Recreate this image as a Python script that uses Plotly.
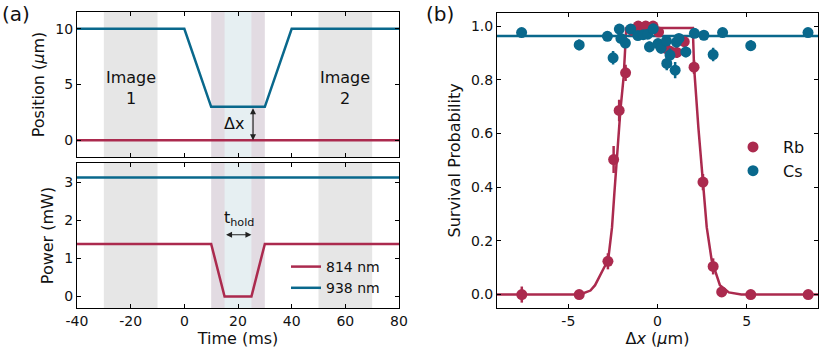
import plotly.graph_objects as go

# ---- data ----
# (a) top: trap positions vs time
time_cs_pos = [-40, 0, 10, 30, 40, 80]
cs_position = [10, 10, 3, 3, 10, 10]
time_rb_pos = [-40, 80]
rb_position = [0, 0]

# (a) bottom: trap powers vs time
time_rb_pow = [-40, 10, 15, 25, 30, 80]
rb_power = [1.38, 1.38, 0, 0, 1.38, 1.38]
time_cs_pow = [-40, 80]
cs_power = [3.12, 3.12]

image_windows = [(-30, -10), (50, 70)]
image_labels = ["Image<br>1", "Image<br>2"]
move_window = (10, 30)
hold_window = (15, 25)
dx_level = 3

# (b) survival vs separation
rb_x = [-7.61, -4.39, -2.78, -2.46, -2.15, -1.79, -1.45, -1.08, -0.66, -0.25, 0.06,
        0.45, 0.71, 1.08, 1.5, 2.05, 2.55, 3.12, 3.6, 5.23, 8.45]
rb_y = [0.0, 0.0, 0.124, 0.503, 0.686, 0.826, 0.985, 1.0, 1.0, 1.0, 0.978,
        0.918, 0.906, 0.902, 0.942, 0.847, 0.419, 0.105, 0.01, 0.0, 0.0]
rb_err = [0.03, 0.008, 0.03, 0.05, 0.04, 0.03, 0.01, 0.005, 0.005, 0.008, 0.01,
          0.02, 0.02, 0.02, 0.015, 0.025, 0.03, 0.03, 0.01, 0.005, 0.005]

cs_x = [-7.62, -4.39, -2.81, -2.49, -2.14, -2.05, -1.8, -1.5, -1.1, -0.8, -0.55,
        -0.45, -0.24, 0.03, 0.2, 0.5, 0.52, 0.7, 0.99, 1.06, 1.2, 1.59, 2.07,
        2.6, 3.12, 3.65, 5.23, 8.44]
cs_y = [0.976, 0.930, 0.962, 0.882, 0.989, 0.954, 0.937, 0.989, 0.965, 0.968, 0.97,
        0.923, 0.990, 0.935, 0.918, 0.945, 0.861, 0.892, 0.836, 0.940, 0.954, 0.904, 0.973,
        0.966, 0.894, 0.976, 0.927, 0.976]
cs_err = [0.01, 0.02, 0.012, 0.025, 0.01, 0.015, 0.015, 0.01, 0.012, 0.012, 0.012,
          0.02, 0.01, 0.015, 0.02, 0.015, 0.025, 0.025, 0.03, 0.015, 0.015, 0.02, 0.01,
          0.01, 0.025, 0.01, 0.02, 0.01]

rb_fit_x = [-9.0, -4.6, -4.2, -3.76, -3.5, -3.2, -3.0, -2.77, -2.55, -2.42, -2.27,
            -2.08, -1.9, -1.8, -1.75, 1.98, 2.0, 2.05, 2.29, 2.55, 2.76, 3.04, 3.5,
            4.0, 4.7, 9.0]
rb_fit_y = [0.0, 0.0, 0.004, 0.015, 0.035, 0.077, 0.1, 0.127, 0.25, 0.376, 0.525,
            0.687, 0.81, 0.95, 0.993, 0.993, 0.93, 0.848, 0.624, 0.43, 0.251, 0.127, 0.035,
            0.008, 0.0, 0.0]
cs_fit_x = [-9.0, 9.0]
cs_fit_y = [0.963, 0.963]

RED = "#AB2A4E"
BLUE = "#09688C"
FONT = "DejaVu Sans"

fig = go.Figure()

# left panels
fig.add_trace(go.Scatter(x=time_cs_pos, y=cs_position, mode="lines", line=dict(color=BLUE, width=2.5),
                         xaxis="x", yaxis="y", showlegend=False))
fig.add_trace(go.Scatter(x=time_rb_pos, y=rb_position, mode="lines", line=dict(color=RED, width=2.5),
                         xaxis="x", yaxis="y", showlegend=False))
fig.add_trace(go.Scatter(x=time_rb_pow, y=rb_power, mode="lines", line=dict(color=RED, width=2.5),
                         xaxis="x2", yaxis="y2", name="814 nm", legend="legend"))
fig.add_trace(go.Scatter(x=time_cs_pow, y=cs_power, mode="lines", line=dict(color=BLUE, width=2.5),
                         xaxis="x2", yaxis="y2", name="938 nm", legend="legend"))

# right panel
fig.add_trace(go.Scatter(x=rb_fit_x, y=rb_fit_y, mode="lines", line=dict(color=RED, width=2.5),
                         xaxis="x3", yaxis="y3", showlegend=False))
fig.add_trace(go.Scatter(x=cs_fit_x, y=cs_fit_y, mode="lines", line=dict(color=BLUE, width=2.5),
                         xaxis="x3", yaxis="y3", showlegend=False))
fig.add_trace(go.Scatter(x=rb_x, y=rb_y, mode="markers", name="Rb", legend="legend2",
                         marker=dict(color=RED, size=11),
                         error_y=dict(type="data", array=rb_err, color=RED, thickness=2.5, width=0),
                         xaxis="x3", yaxis="y3"))
fig.add_trace(go.Scatter(x=cs_x, y=cs_y, mode="markers", name="Cs", legend="legend2",
                         marker=dict(color=BLUE, size=11),
                         error_y=dict(type="data", array=cs_err, color=BLUE, thickness=2.5, width=0),
                         xaxis="x3", yaxis="y3"))

# shaded time windows in both left panels
shapes = []
for xa, ya in [("x", "y"), ("x2", "y2")]:
    for x0, x1 in image_windows:
        shapes.append(dict(type="rect", xref=xa, yref=ya + " domain", x0=x0, x1=x1, y0=0, y1=1,
                           fillcolor="#e6e6e6", line_width=0, layer="below"))
    shapes.append(dict(type="rect", xref=xa, yref=ya + " domain", x0=move_window[0], x1=move_window[1],
                       y0=0, y1=1, fillcolor="#e2dbe2", line_width=0, layer="below"))
    shapes.append(dict(type="rect", xref=xa, yref=ya + " domain", x0=hold_window[0], x1=hold_window[1],
                       y0=0, y1=1, fillcolor="#e6eff2", line_width=0, layer="below"))

annotations = []
for (x0, x1), lab in zip(image_windows, image_labels):
    annotations.append(dict(x=(x0 + x1) / 2, y=4.7, xref="x", yref="y", text=lab, showarrow=False,
                            font=dict(size=16, color="#111")))
# delta x arrow
annotations.append(dict(x=hold_window[1] + 0.6, y=0, ax=hold_window[1] + 0.6, ay=dx_level,
                        xref="x", yref="y", axref="x", ayref="y", text="", showarrow=True,
                        arrowhead=2, startarrowhead=2, arrowside="end+start", arrowsize=1,
                        arrowwidth=1.2, arrowcolor="#222", standoff=0, startstandoff=0))
annotations.append(dict(x=18.5, y=1.5, xref="x", yref="y", text="Δx", showarrow=False,
                        font=dict(size=16, color="#111")))
# t_hold arrow
annotations.append(dict(x=hold_window[1], y=1.62, ax=hold_window[0], ay=1.62,
                        xref="x2", yref="y2", axref="x2", ayref="y2", text="", showarrow=True,
                        arrowhead=2, startarrowhead=2, arrowside="end+start", arrowsize=1,
                        arrowwidth=1.2, arrowcolor="#222", standoff=0, startstandoff=0))
annotations.append(dict(x=20.5, y=2.05, xref="x2", yref="y2", text="t<sub>hold</sub>", showarrow=False,
                        font=dict(size=16, color="#111")))
# panel labels
annotations.append(dict(x=0, y=1.0, xref="paper", yref="paper", text="(a)", showarrow=False,
                        xanchor="left", yanchor="top", font=dict(size=20, color="#111")))
annotations.append(dict(x=424 / 830, y=1.0, xref="paper", yref="paper", text="(b)", showarrow=False,
                        xanchor="left", yanchor="top", font=dict(size=20, color="#111")))

axis_common = dict(ticks="inside", ticklen=4, tickwidth=1, tickcolor="black", showline=True,
                   linecolor="black", linewidth=1, mirror="ticks", showgrid=False, zeroline=False,
                   automargin=False,
                   tickfont=dict(size=14, color="#111"), title_font=dict(size=16, color="#111"))

time_ticks = [-40, -20, 0, 20, 40, 60, 80]
time_labels = ["-40", "-20", "0", "20", "40", "60", "80"]

fig.update_layout(
    width=830, height=360, margin=dict(l=0, r=0, t=0, b=0),
    paper_bgcolor="white", plot_bgcolor="white",
    font=dict(family=FONT, color="#111"),
    shapes=shapes, annotations=annotations,
    xaxis=dict(domain=[77 / 830, 399 / 830], range=[-40, 80], tickvals=time_ticks,
               showticklabels=False, anchor="y", **axis_common),
    yaxis=dict(domain=[1 - 157 / 360, 1 - 12 / 360], range=[-1.5, 11.5], tickvals=[0, 5, 10],
               title=dict(text="Position (<i>μ</i>m)", standoff=6), anchor="x", **axis_common),
    xaxis2=dict(domain=[77 / 830, 399 / 830], range=[-40, 80], tickvals=time_ticks, ticktext=time_labels,
                title=dict(text="Time (ms)", standoff=4), anchor="y2", **axis_common),
    yaxis2=dict(domain=[1 - 308 / 360, 1 - 163 / 360], range=[-0.3, 3.5], tickvals=[0, 1, 2, 3],
                title=dict(text="Power (mW)", standoff=6), anchor="x2", **axis_common),
    xaxis3=dict(domain=[497 / 830, 818 / 830], range=[-9, 9], tickvals=[-5, 0, 5], ticktext=["-5", "0", "5"],
                title=dict(text="Δ<i>x</i> (<i>μ</i>m)", standoff=4), anchor="y3", **axis_common),
    yaxis3=dict(domain=[1 - 308 / 360, 1 - 12.7 / 360], range=[-0.05, 1.05],
                tickvals=[0, 0.2, 0.4, 0.6, 0.8, 1.0], tickformat=".1f",
                title=dict(text="Survival Probability", standoff=6), anchor="x3", **axis_common),
    legend=dict(x=286 / 830, y=1 - 251 / 360, xanchor="left", yanchor="top", bgcolor="rgba(0,0,0,0)",
                font=dict(size=14, color="#111"), tracegroupgap=0),
    legend2=dict(x=723 / 830, y=1 - 130 / 360, xanchor="left", yanchor="top", bgcolor="rgba(0,0,0,0)",
                 font=dict(size=16, color="#111"), tracegroupgap=0, itemwidth=50),
)

# drop the page's default body margin so the figure sits at the window's corner
fig.write_html("out.html", config={"displayModeBar": False},
               post_script="document.body.style.margin='0';")
